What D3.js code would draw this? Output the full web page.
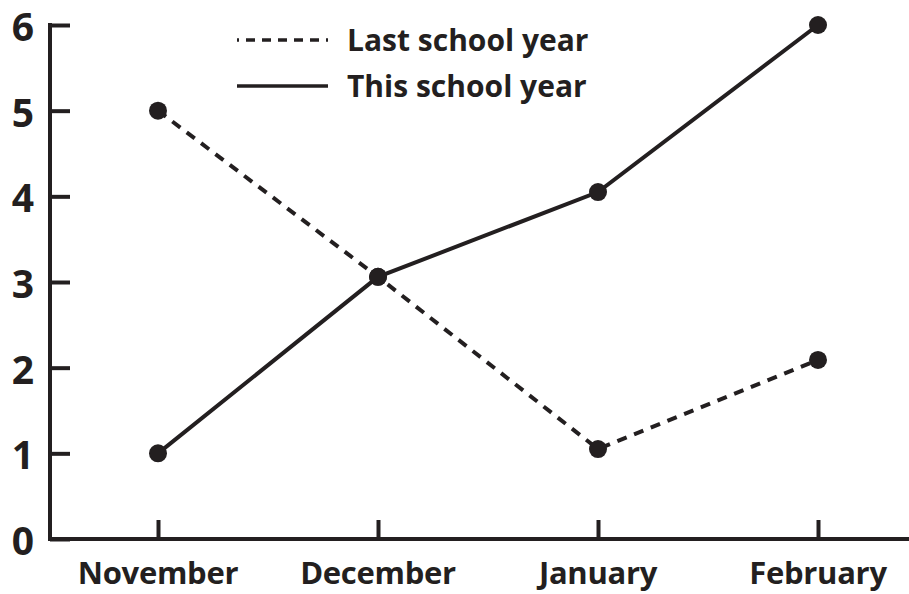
<!DOCTYPE html>
<html lang="en">
<head>
<meta charset="utf-8">
<title>School year chart</title>
<script src="https://cdn.jsdelivr.net/npm/d3@7"></script>
<style>
    body { margin: 0; background: #fff; }
    text { font-family: "Open Sans", sans-serif; font-weight: bold; fill: #231f20; }
</style>
</head>
<body>
<div id="chart"></div>
<script>
// data
var months = ["November", "December", "January", "February"];
var lastYear = [5, 3.06, 1.05, 2.09];
var thisYear = [1.0, 3.06, 4.05, 6];
var yTicks = [0, 1, 2, 3, 4, 5, 6];
var seriesNames = ["Last school year", "This school year"];

var w = 909, h = 594;
var ink = "#231f20";

var svg = d3.select("#chart").append("svg")
    .attr("width", w)
    .attr("height", h);

var x = d3.scalePoint().domain(months).range([158, 818]);
var y = d3.scaleLinear().domain([0, 6]).range([539, 25]);

// y axis: ticks point inward
var yAxis = svg.append("g")
    .attr("transform", "translate(50,0)")
    .call(d3.axisRight(y).tickValues(yTicks).tickSize(20).tickFormat(d3.format("d")));
yAxis.select(".domain").remove();
yAxis.selectAll("line").attr("stroke", ink).attr("stroke-width", 4);
yAxis.selectAll("text")
    .attr("x", -16)
    .attr("dy", "0.4em")
    .attr("text-anchor", "end")
    .style("font-size", "39px");
svg.append("line")
    .attr("x1", 50).attr("x2", 50)
    .attr("y1", y(6) - 2).attr("y2", y(0) + 2)
    .attr("stroke", ink).attr("stroke-width", 4);

// x axis: ticks point up
var xAxis = svg.append("g")
    .attr("transform", "translate(0," + y(0) + ")")
    .call(d3.axisTop(x).tickSize(19).tickFormat(""));
xAxis.select(".domain").remove();
xAxis.selectAll("line").attr("stroke", ink).attr("stroke-width", 4);
svg.append("line")
    .attr("x1", 48).attr("x2", w)
    .attr("y1", y(0)).attr("y2", y(0))
    .attr("stroke", ink).attr("stroke-width", 4);
svg.selectAll(".month")
    .data(months)
    .enter().append("text")
    .attr("class", "month")
    .attr("x", function (d) { return x(d); })
    .attr("y", 584)
    .attr("text-anchor", "middle")
    .style("font-size", "31px")
    .style("letter-spacing", "-0.3px")
    .text(function (d) { return d; });

var line = d3.line()
    .x(function (d, i) { return x(months[i]); })
    .y(function (d) { return y(d); });

var series = [
    { name: seriesNames[0], values: lastYear, dash: "10,8" },
    { name: seriesNames[1], values: thisYear, dash: null }
];

series.forEach(function (s) {
    svg.append("path")
        .datum(s.values)
        .attr("d", line)
        .attr("fill", "none")
        .attr("stroke", ink)
        .attr("stroke-width", 4)
        .attr("stroke-dasharray", s.dash);
});

series.forEach(function (s) {
    svg.selectAll(null)
        .data(s.values)
        .enter().append("circle")
        .attr("cx", function (d, i) { return x(months[i]); })
        .attr("cy", function (d) { return y(d); })
        .attr("r", 9)
        .attr("fill", ink);
});

// legend
var legend = svg.selectAll(".legend")
    .data(series)
    .enter().append("g")
    .attr("class", "legend")
    .attr("transform", function (d, i) { return "translate(237," + (40 + i * 46) + ")"; });
legend.append("line")
    .attr("x1", 0).attr("x2", 91)
    .attr("stroke", ink)
    .attr("stroke-width", 3.5)
    .attr("stroke-dasharray", function (d) { return d.dash ? "9,7" : null; })
    .attr("stroke-dashoffset", function (d) { return d.dash ? 7 : null; });
legend.append("text")
    .attr("x", 110)
    .attr("dy", "0.36em")
    .style("font-size", "30px")
    .text(function (d) { return d.name; });
</script>
</body>
</html>
